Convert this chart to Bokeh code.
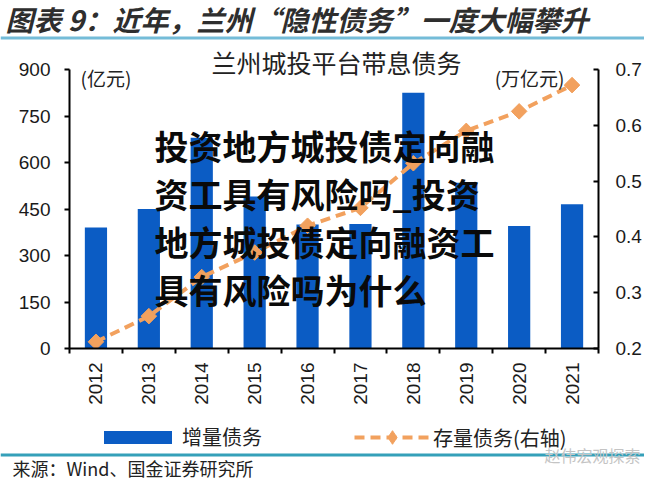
import math
from bokeh.plotting import figure
from bokeh.layouts import column
from bokeh.models import (Range1d, LinearAxis, FixedTicker, Label,
                          Legend, LegendItem, CustomJSTickFormatter)
from bokeh.embed import file_html
from bokeh.resources import INLINE

years = ["2012", "2013", "2014", "2015", "2016", "2017", "2018", "2019", "2020", "2021"]
increment_debt = [390, 450, 680, 490, 400, 402, 825, 535, 395, 465]          # 亿元
stock_debt = [0.212, 0.258, 0.328, 0.372, 0.420, 0.452, 0.532, 0.590, 0.625, 0.672]  # 万亿元
left_ticks = [0, 150, 300, 450, 600, 750, 900]
right_ticks = [0.2, 0.3, 0.4, 0.5, 0.6, 0.7]

title_text = "图表 9：近年，兰州“隐性债务”一度大幅攀升"
chart_title = "兰州城投平台带息债务"
left_unit = "(亿元)"
right_unit = "(万亿元)"
legend_bar = "增量债务"
legend_line = "存量债务(右轴)"
overlay_lines = ["投资地方城投债定向融", "资工具有风险吗_投资", "地方城投债定向融资工", "具有风险吗为什么"]
source_text = "来源：Wind、国金证券研究所"
watermark = "赵伟宏观探索"

BAR = "#0B5CC4"
ORANGE = "#F2A15E"
CJK = "Noto Sans CJK SC"
NUM = "Liberation Sans"
W = 644


def blank_fig(h):
    f = figure(width=W, height=h, output_backend="svg", toolbar_location=None,
               x_range=Range1d(0, W), y_range=Range1d(0, h),
               x_axis_type=None, y_axis_type=None, min_border=0, frame_align=False,
               background_fill_color="white", border_fill_color="white")
    f.outline_line_color = None
    f.grid.grid_line_color = None
    return f


# ---------------- header (page rows 0-40) ----------------
HH = 40
head = blank_fig(HH)
head.add_layout(Label(x=5, y=HH - 18, text=title_text, text_font=CJK, text_font_size="28px",
                      text_font_style="bold italic", text_color="#2e2e2e",
                      text_baseline="middle", text_align="left"))
head.quad(left=[0], right=[W], bottom=[HH - 39], top=[HH - 36],
          fill_color="#74bcd8", line_color=None)

# ---------------- main chart ----------------
n = len(years)
centers = [i + 0.5 for i in range(n)]
bounds = [float(i) for i in range(n + 1)]

FRAME_TOP, AXIS_TOP, AXIS_BOTTOM = HH, 69, 348   # page rows
FL, FR = 69, 599                                 # page columns of the frame
MAIN_BOTTOM = 420
scale = (AXIS_BOTTOM - FRAME_TOP) / (AXIS_BOTTOM - AXIS_TOP)
ly0, ly1 = left_ticks[0], left_ticks[-1]
ry0, ry1 = right_ticks[0], right_ticks[-1]

p = figure(width=W, height=MAIN_BOTTOM - FRAME_TOP, output_backend="svg", toolbar_location=None,
           x_range=Range1d(0, n), y_range=Range1d(ly0, ly0 + (ly1 - ly0) * scale),
           min_border_left=FL, min_border_right=W - FR, min_border_top=0,
           min_border_bottom=MAIN_BOTTOM - AXIS_BOTTOM, frame_align=False,
           background_fill_color="white", border_fill_color="white")
p.extra_y_ranges = {"right": Range1d(ry0, ry0 + (ry1 - ry0) * scale)}
p.outline_line_color = None
p.xgrid.grid_line_color = None
p.ygrid.grid_line_color = None

bars = p.vbar(x=centers, top=increment_debt, width=0.42, fill_color=BAR, line_color=None)
ln = p.line(x=centers, y=stock_debt, y_range_name="right", line_color=ORANGE,
            line_width=4, line_dash="10 6")
mk = p.scatter(x=centers, y=stock_debt, y_range_name="right", marker="square",
               angle=math.pi / 4, size=11, fill_color=ORANGE, line_color=ORANGE)

xa = p.xaxis[0]
xa.ticker = FixedTicker(ticks=centers, minor_ticks=bounds)
xa.formatter = CustomJSTickFormatter(args=dict(labels=years),
                                     code="return labels[Math.floor(tick)] || '';")
xa.bounds = (0, n)
xa.major_tick_line_color = None
xa.major_tick_out = 5
xa.major_tick_in = 0
xa.minor_tick_out = 5
xa.minor_tick_in = 0
xa.minor_tick_line_color = "black"
xa.minor_tick_line_width = 2
xa.axis_line_width = 2
xa.major_label_orientation = math.pi / 2
xa.major_label_standoff = 9
xa.major_label_text_font = NUM
xa.major_label_text_font_size = "19px"
xa.major_label_text_color = "#1a1a1a"

ya = p.yaxis[0]
ya.ticker = FixedTicker(ticks=left_ticks)
ya.bounds = (ly0, ly1)
ya.major_tick_out = 5
ya.major_tick_in = 0
ya.minor_tick_line_color = None
ya.axis_line_width = 2
ya.major_tick_line_width = 2
ya.major_label_standoff = 14
ya.major_label_text_font = NUM
ya.major_label_text_font_size = "19px"
ya.major_label_text_color = "#1a1a1a"

ra = LinearAxis(y_range_name="right", ticker=FixedTicker(ticks=right_ticks), bounds=(ry0, ry1))
ra.major_tick_out = 0
ra.major_tick_in = 5
ra.minor_tick_line_color = None
ra.axis_line_width = 2
ra.major_tick_line_width = 2
ra.major_label_standoff = 17
ra.major_label_text_font = NUM
ra.major_label_text_font_size = "19px"
ra.major_label_text_color = "#1a1a1a"
p.add_layout(ra, "right")


def sx(X):
    return X - FL


def sy(Y):
    return AXIS_BOTTOM - Y


p.add_layout(Label(x=sx(336), y=sy(61), x_units="screen", y_units="screen", text=chart_title,
                   text_font=CJK, text_font_size="25px", text_color="#222222",
                   text_baseline="middle", text_align="center"))
p.add_layout(Label(x=sx(80), y=sy(77), x_units="screen", y_units="screen", text=left_unit,
                   text_font=CJK, text_font_size="19px", text_color="#222222",
                   text_baseline="middle", text_align="left"))
p.add_layout(Label(x=sx(564), y=sy(77), x_units="screen", y_units="screen", text=right_unit,
                   text_font=CJK, text_font_size="19px", text_color="#222222",
                   text_baseline="middle", text_align="right"))
for i, t in enumerate(overlay_lines):
    p.add_layout(Label(x=sx(154), y=sy(145 + 48 * i), x_units="screen", y_units="screen",
                       text=t, text_font=CJK, text_font_size="34px", text_font_style="bold",
                       text_color="#0a0a0a", text_baseline="middle", text_align="left"))

# ---------------- footer (page rows 420-480) ----------------
FH = 480 - MAIN_BOTTOM
foot = blank_fig(FH)

# hidden legend proxies styled like the chart's marks (first data point only)
lb = foot.vbar(x=centers[:1], top=increment_debt[:1], width=1, fill_color=BAR,
               line_color=None, visible=False)
ll = foot.line(x=centers[:2], y=stock_debt[:2], line_color=ORANGE, line_width=4,
               line_dash="10 6", visible=False)
lm = foot.scatter(x=centers[:1], y=stock_debt[:1], marker="diamond", size=13,
                  fill_color=ORANGE, line_color=ORANGE, visible=False)

leg1 = Legend(items=[LegendItem(label=legend_bar, renderers=[lb])],
              location=(95, 29), orientation="horizontal",
              glyph_width=85, glyph_height=16, label_standoff=2, padding=0, margin=0,
              border_line_color=None, background_fill_alpha=0, inactive_fill_alpha=0,
              label_text_font=CJK, label_text_font_size="20px", label_text_color="#222222")
leg2 = Legend(items=[LegendItem(label=legend_line, renderers=[ll, lm])],
              location=(354, 26), orientation="horizontal",
              glyph_width=76, glyph_height=34, label_standoff=3, padding=0, margin=0,
              border_line_color=None, background_fill_alpha=0, inactive_fill_alpha=0,
              label_text_font=CJK, label_text_font_size="20px", label_text_color="#222222")
foot.add_layout(leg1)
foot.add_layout(leg2)

foot.quad(left=[0], right=[W], bottom=[FH - 36], top=[FH - 33],
          fill_color="#35a0b9", line_color=None)
foot.add_layout(Label(x=12, y=FH - 47, text=source_text, text_font=CJK, text_font_size="18px",
                      text_color="#222222", text_baseline="middle", text_align="left"))
foot.add_layout(Label(x=640, y=FH - 34.5, text=watermark, text_font=CJK, text_font_size="16px",
                      text_color="#c4c4c4", text_baseline="middle", text_align="right"))

layout = column(head, p, foot, spacing=0)
open("out.html", "w").write(file_html(layout, INLINE))
